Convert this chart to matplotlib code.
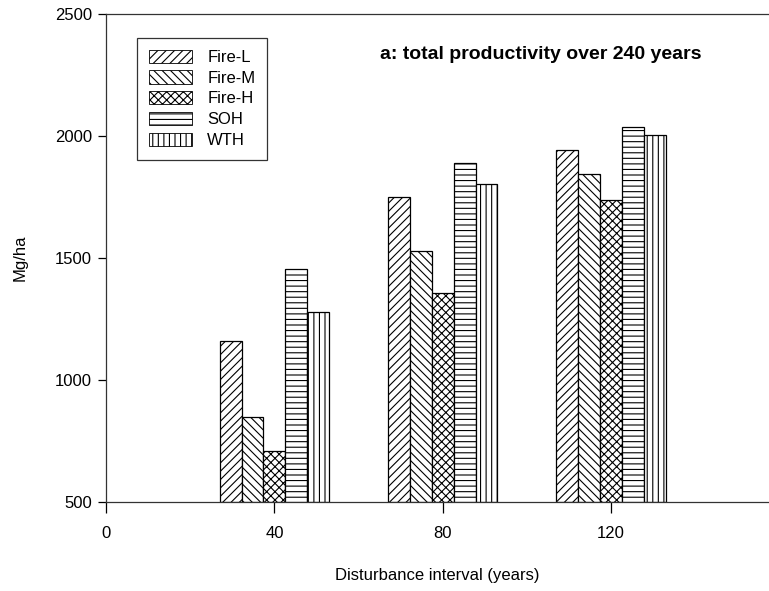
import numpy as np
import matplotlib
matplotlib.use("Agg")
import matplotlib.pyplot as plt
from matplotlib.patches import Patch

plt.rcParams['font.family'] = ['Liberation Sans', 'DejaVu Sans']
plt.rcParams['hatch.linewidth'] = 0.8

# donnees
intervalles = [40, 80, 120]
traitements = ["Fire-L", "Fire-M", "Fire-H", "SOH", "WTH"]
fire_l = [1160, 1748, 1942]
fire_m = [850, 1530, 1845]
fire_h = [710, 1357, 1736]
soh = [1455, 1888, 2035]
wth = [1280, 1803, 2003]
x_ticks = [0, 40, 80, 120]
y_ticks = [500, 1000, 1500, 2000, 2500]

series = [fire_l, fire_m, fire_h, soh, wth]
hachures = ['////', '\\\\\\\\', 'xxxx', '---', '|||']

fig = plt.figure(figsize=(7.69, 5.91), dpi=100)
# l'axe des x continue jusqu'au bord droit de l'image
ax = fig.add_axes([106 / 769, 89 / 591, 663 / 769, 488 / 591])

largeur = 5.2
n = len(series)
for i, (vals, h) in enumerate(zip(series, hachures)):
    pos = np.array(intervalles) + (i - (n - 1) / 2) * largeur
    ax.bar(pos, np.array(vals) - 500, bottom=500, width=largeur,
           facecolor='white', edgecolor='black', hatch=h, linewidth=0.9,
           label=traitements[i])

ax.set_xlim(0, 157.5)
ax.set_ylim(500, 2500)
ax.set_xticks(x_ticks)
ax.set_yticks(y_ticks)
ax.spines['right'].set_visible(False)
for s in ['left', 'top', 'bottom']:
    ax.spines[s].set_linewidth(0.9)
    ax.spines[s].set_color('#333333')
ax.tick_params(axis='x', direction='out', length=8, width=0.9, pad=9, labelsize=12)
ax.tick_params(axis='y', direction='out', length=6, width=0.9, pad=4, labelsize=12)

ax.set_xlabel("Disturbance interval (years)", fontsize=12, labelpad=20)
ax.set_ylabel("Mg/ha", fontsize=12, labelpad=20)

poignees = [Patch(facecolor='white', edgecolor='black', hatch=h, linewidth=0.6)
            for h in hachures]
leg = ax.legend(poignees, traitements, loc='upper left',
                bbox_to_anchor=(0.047, 0.951), fontsize=12, frameon=True,
                fancybox=False, edgecolor='black', handlelength=2.6,
                handleheight=0.85, labelspacing=0.32, handletextpad=0.9,
                borderpad=0.7, borderaxespad=0)
leg.get_frame().set_linewidth(0.9)

fig.text(0.703, 0.907, "a: total productivity over 240 years", fontsize=14,
         fontweight='bold', ha='center', va='center')

fig.savefig("out.png", dpi=100)
